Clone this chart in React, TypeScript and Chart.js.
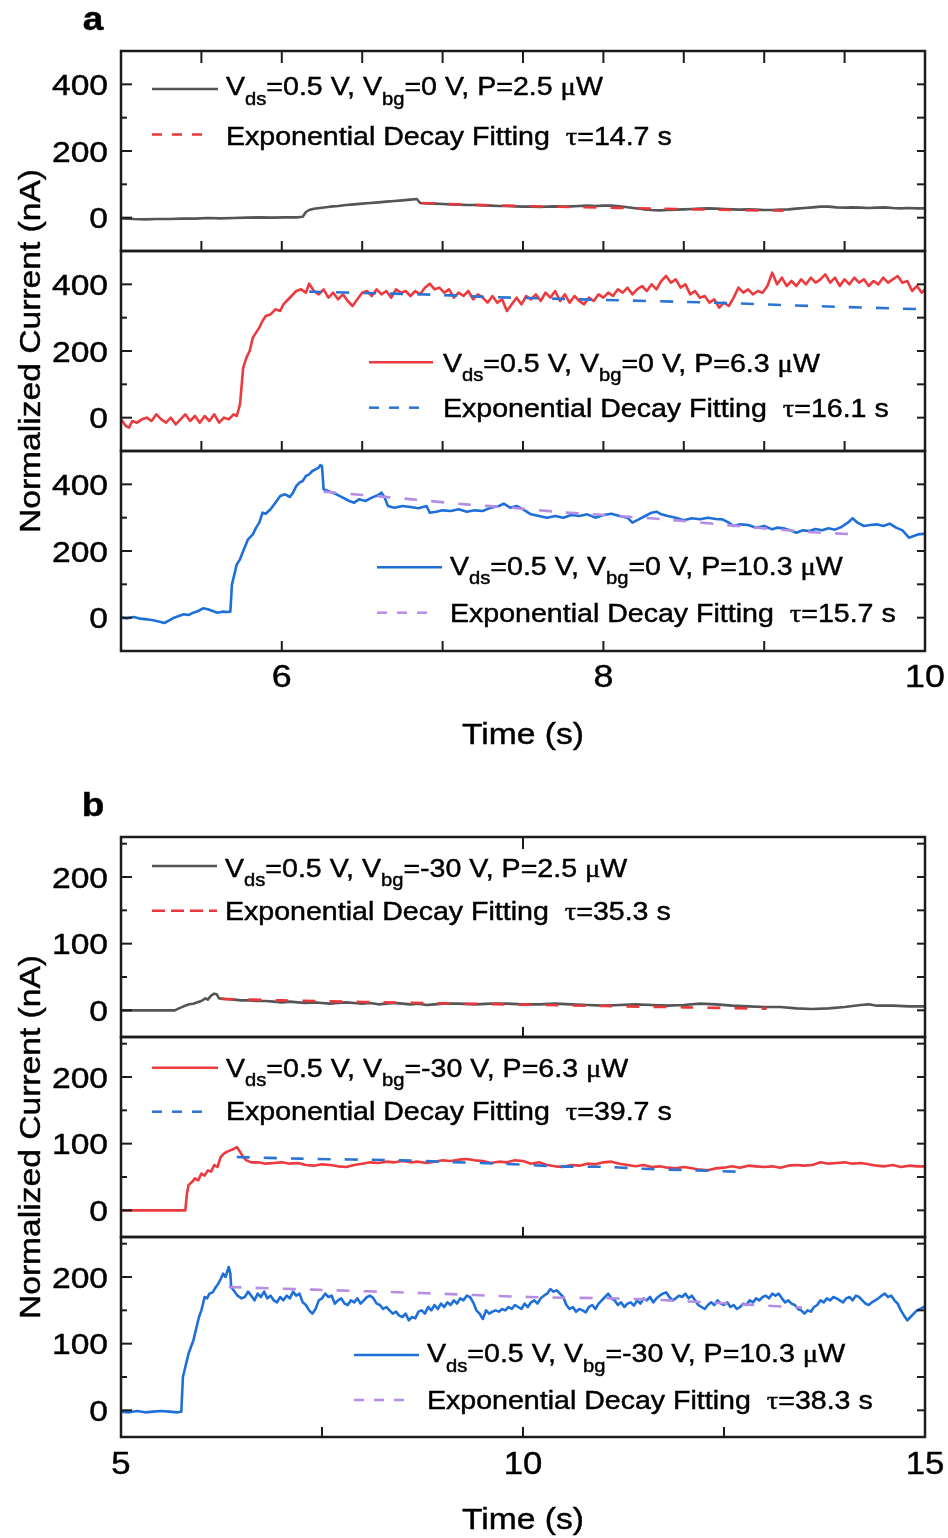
import React, { useEffect, useRef } from 'react';
import { Chart, registerables } from 'chart.js';

Chart.register(...registerables);

// ---------------- DATA ----------------
// Panel a, top: Vbg = 0 V, P = 2.5 uW (gray) + fit
const a1Time = [5.00,5.08,5.15,5.22,5.30,5.38,5.46,5.54,5.62,5.70,
  5.78,5.86,5.94,6.02,6.10,6.13,6.15,6.17,6.20,6.25,
  6.30,6.35,6.40,6.45,6.50,6.55,6.60,6.65,6.70,6.75,
  6.80,6.84,6.86,6.90,6.95,7.00,7.05,7.10,7.15,7.20,
  7.25,7.30,7.35,7.40,7.45,7.50,7.55,7.60,7.65,7.70,
  7.75,7.80,7.85,7.90,7.95,8.00,8.05,8.10,8.15,8.20,
  8.25,8.30,8.35,8.40,8.45,8.50,8.55,8.60,8.65,8.70,
  8.75,8.80,8.85,8.90,8.95,9.00,9.05,9.10,9.15,9.20,
  9.25,9.30,9.35,9.40,9.45,9.50,9.55,9.60,9.65,9.70,
  9.75,9.80,9.85,9.90,9.95,10.00];
const a1Current = [-2,-4,-5,-4,-4,-3,-3,-1,-2,-1,
  0,1,0,1,1,3,17,23,27,30,
  33,35,38,40,42,44,46,48,50,52,
  54,56,44,43,42,41,40,39,38,38,
  37,36,35,35,34,33,33,32,33,34,
  33,34,35,36,35,36,36,34,31,28,
  25,23,22,23,24,25,26,27,28,27,
  26,25,24,25,24,23,23,24,25,27,
  29,31,33,33,31,30,31,30,29,30,
  31,29,28,29,28,28];
const a1FitTime = [6.87,7.3,7.8,8.35,8.8,9.12];
const a1FitCurrent = [44,37,32,27,23,21];

// Panel a, middle: P = 6.3 uW (red) + fit
const a2Time = [5.00,5.03,5.05,5.07,5.10,5.13,5.16,5.19,5.22,5.25,
  5.28,5.31,5.34,5.37,5.40,5.43,5.46,5.49,5.52,5.55,
  5.58,5.61,5.64,5.67,5.70,5.72,5.74,5.76,5.78,5.80,
  5.82,5.84,5.86,5.88,5.90,5.93,5.96,5.99,6.01,6.03,
  6.06,6.09,6.12,6.15,6.17,6.20,6.23,6.26,6.29,6.32,
  6.35,6.38,6.41,6.44,6.47,6.50,6.53,6.56,6.59,6.62,
  6.65,6.68,6.71,6.74,6.77,6.80,6.83,6.86,6.89,6.92,
  6.95,6.98,7.01,7.04,7.07,7.10,7.13,7.16,7.19,7.22,
  7.25,7.28,7.31,7.34,7.37,7.40,7.43,7.46,7.49,7.52,
  7.55,7.58,7.61,7.64,7.67,7.70,7.73,7.76,7.79,7.82,
  7.85,7.88,7.91,7.94,7.97,8.00,8.03,8.06,8.09,8.12,
  8.15,8.18,8.21,8.24,8.27,8.30,8.33,8.36,8.39,8.42,
  8.45,8.48,8.51,8.54,8.57,8.60,8.63,8.66,8.69,8.72,
  8.75,8.78,8.81,8.84,8.87,8.90,8.93,8.96,8.99,9.02,
  9.05,9.08,9.11,9.14,9.17,9.20,9.23,9.26,9.29,9.32,
  9.35,9.38,9.41,9.44,9.47,9.50,9.53,9.56,9.59,9.62,
  9.65,9.68,9.71,9.74,9.77,9.80,9.83,9.86,9.89,9.92,
  9.95,9.98,10.00];
const a2Current = [-5,-25,-30,-10,-15,-5,0,-10,10,-5,
  -15,0,-20,-5,10,-10,5,-15,5,-10,
  10,-15,0,-5,10,5,40,150,180,200,
  240,255,270,290,305,310,325,320,340,350,
  365,380,385,375,402,380,370,385,360,375,
  355,370,350,335,355,375,380,365,385,370,
  380,360,385,375,380,365,380,370,390,402,
  385,390,375,385,360,375,365,380,355,370,
  360,345,365,345,355,320,340,360,340,365,
  355,370,350,375,360,380,350,370,345,365,
  350,340,360,350,370,360,375,365,385,375,
  390,370,385,395,380,400,385,410,425,405,
  415,390,400,370,380,360,365,345,355,330,
  345,335,360,390,375,385,370,380,375,395,
  435,400,420,395,410,395,415,400,420,405,
  415,430,405,420,395,415,400,420,405,415,
  395,410,400,420,405,415,425,405,410,380,
  395,375,385];
const a2FitTime = [6.17,6.6,6.94,7.23,7.85,8.68,9.3,10.0];
const a2FitCurrent = [378,373,369,363,355,345,335,325];

// Panel a, bottom: P = 10.3 uW (blue) + fit
const a3Time = [5.00,5.04,5.08,5.12,5.16,5.20,5.24,5.27,5.30,5.33,
  5.36,5.39,5.42,5.45,5.48,5.51,5.54,5.57,5.60,5.63,
  5.66,5.68,5.69,5.72,5.74,5.76,5.79,5.82,5.84,5.86,
  5.88,5.90,5.93,5.96,5.99,6.02,6.05,6.07,6.09,6.11,
  6.13,6.15,6.17,6.19,6.21,6.23,6.24,6.25,6.26,6.30,
  6.34,6.38,6.42,6.45,6.48,6.52,6.56,6.60,6.62,6.64,
  6.66,6.70,6.75,6.80,6.85,6.90,6.92,6.96,7.00,7.05,
  7.10,7.15,7.20,7.25,7.30,7.35,7.38,7.42,7.46,7.50,
  7.55,7.60,7.65,7.70,7.75,7.80,7.85,7.90,7.95,8.00,
  8.05,8.10,8.15,8.18,8.22,8.26,8.30,8.33,8.36,8.40,
  8.45,8.50,8.55,8.60,8.65,8.70,8.74,8.78,8.81,8.85,
  8.90,8.95,9.00,9.05,9.08,9.12,9.16,9.20,9.24,9.28,
  9.32,9.36,9.40,9.44,9.48,9.52,9.55,9.58,9.62,9.66,
  9.70,9.74,9.78,9.82,9.86,9.90,9.93,9.96,10.00];
const a3Current = [0,-2,2,-3,-5,-8,-12,-16,-8,0,
  5,10,8,15,20,28,25,20,15,18,
  17,18,100,160,175,200,235,250,270,285,
  315,312,325,345,365,370,362,375,395,405,
  410,425,430,440,445,450,458,455,385,378,
  370,360,350,345,355,350,360,368,375,360,
  335,330,335,332,328,335,315,318,322,320,
  325,318,322,320,330,335,342,330,335,325,
  310,305,300,305,300,308,305,310,300,308,
  312,305,300,285,295,305,315,318,310,305,
  300,292,298,295,300,296,295,285,275,280,
  278,270,275,265,270,268,262,255,262,260,
  266,262,268,264,272,285,298,285,275,278,
  280,275,282,270,262,240,245,250,252];
const a3FitTime = [6.26,6.5,6.81,7.14,7.4,7.7,8.0,8.4,8.9,9.28,9.56];
const a3FitCurrent = [378,368,355,340,331,318,308,294,272,257,250];

// Panel b, top: Vbg = -30 V, P = 2.5 uW (gray) + fit
const b1Time = [5.0,5.3,5.6,5.67,5.72,5.78,5.85,5.9,5.95,6.0,
  6.05,6.08,6.12,6.16,6.19,6.22,6.3,6.4,6.5,6.6,
  6.7,6.8,6.9,7.0,7.1,7.2,7.3,7.4,7.5,7.6,
  7.7,7.8,7.9,8.0,8.1,8.2,8.3,8.4,8.5,8.6,
  8.7,8.8,8.9,9.0,9.2,9.4,9.6,9.8,10.0,10.2,
  10.4,10.6,10.8,11.0,11.2,11.4,11.6,11.8,12.0,12.2,
  12.4,12.6,12.8,13.0,13.2,13.4,13.6,13.8,14.0,14.2,
  14.3,14.4,14.6,14.8,15.0];
const b1Current = [0,0,0,0,3,6,9,10,12,14,
  18,16,22,25,24,18,17,16,15,15,
  14,14,13,12,13,12,11,12,11,10,
  11,12,11,10,11,9,10,11,10,9,
  10,8,9,10,10,9,10,10,9,9,
  10,9,8,7,8,9,8,7,8,10,
  9,7,6,5,5,3,2,3,5,8,
  9,7,7,6,6];
const b1FitTime = [6.25,7,8,9,10,11,12,13.03];
const b1FitCurrent = [17,15,12.5,10.5,8.5,6.5,4.5,2.5];

// Panel b, middle: P = 6.3 uW (red) + fit
const b2Time = [5.0,5.4,5.8,5.82,5.84,5.88,5.92,5.96,6.0,6.04,
  6.08,6.12,6.16,6.2,6.24,6.28,6.32,6.36,6.4,6.44,
  6.48,6.52,6.56,6.62,6.7,6.8,6.9,7.0,7.1,7.2,
  7.3,7.4,7.5,7.6,7.7,7.8,7.9,8.0,8.1,8.2,
  8.3,8.4,8.5,8.6,8.7,8.8,8.9,9.0,9.1,9.2,
  9.3,9.4,9.5,9.6,9.7,9.8,9.9,10.0,10.1,10.2,
  10.3,10.4,10.5,10.6,10.7,10.8,10.9,11.0,11.1,11.2,
  11.3,11.4,11.5,11.6,11.7,11.8,11.9,12.0,12.1,12.2,
  12.3,12.4,12.5,12.6,12.7,12.8,12.9,13.0,13.1,13.2,
  13.3,13.4,13.5,13.6,13.7,13.8,13.9,14.0,14.1,14.2,
  14.3,14.4,14.5,14.6,14.7,14.8,14.9,15.0];
const b2Current = [0,0,0,25,38,42,48,45,55,52,
  60,58,68,65,80,85,88,90,92,95,
  88,80,75,72,72,70,71,72,70,71,
  68,67,69,68,66,65,68,70,72,71,
  73,72,74,72,73,71,73,75,74,76,
  77,75,74,71,73,72,75,74,70,72,
  68,66,65,68,67,70,69,72,73,70,
  68,66,68,65,66,64,63,65,63,61,
  60,63,64,66,64,67,66,65,66,64,
  67,68,67,68,72,70,71,72,70,71,
  69,67,66,68,65,67,66,66];
const b2FitTime = [6.44,7.23,8.48,9.09,9.71,10.46,11.08,11.46,12.12,12.78];
const b2FitCurrent = [80,77.5,75,72.5,70,66,65,62.5,60,57.5];

// Panel b, bottom: P = 10.3 uW (blue) + fit
const b3Time = [5.0,5.1,5.2,5.3,5.4,5.5,5.6,5.7,5.75,5.77,
  5.8,5.84,5.87,5.9,5.94,5.97,6.0,6.04,6.07,6.1,
  6.14,6.18,6.21,6.24,6.27,6.3,6.34,6.36,6.37,6.4,
  6.45,6.5,6.54,6.58,6.62,6.66,6.7,6.74,6.78,6.82,
  6.86,6.9,6.94,6.98,7.02,7.06,7.1,7.14,7.18,7.22,
  7.26,7.3,7.34,7.38,7.42,7.46,7.5,7.54,7.58,7.62,
  7.66,7.7,7.74,7.78,7.82,7.86,7.9,7.94,7.98,8.02,
  8.06,8.1,8.14,8.18,8.22,8.26,8.3,8.34,8.38,8.42,
  8.46,8.5,8.54,8.58,8.62,8.66,8.7,8.74,8.78,8.82,
  8.86,8.9,8.94,8.98,9.02,9.06,9.1,9.14,9.18,9.22,
  9.26,9.3,9.34,9.38,9.42,9.46,9.5,9.54,9.58,9.62,
  9.66,9.7,9.74,9.78,9.82,9.86,9.9,9.94,9.98,10.02,
  10.06,10.1,10.14,10.18,10.22,10.26,10.3,10.34,10.38,10.42,
  10.46,10.5,10.54,10.58,10.62,10.66,10.7,10.74,10.78,10.82,
  10.86,10.9,10.94,10.98,11.02,11.06,11.1,11.14,11.18,11.22,
  11.26,11.3,11.34,11.38,11.42,11.46,11.5,11.54,11.58,11.62,
  11.66,11.7,11.74,11.78,11.82,11.86,11.9,11.94,11.98,12.02,
  12.06,12.1,12.14,12.18,12.22,12.26,12.3,12.34,12.38,12.42,
  12.46,12.5,12.54,12.58,12.62,12.66,12.7,12.74,12.78,12.82,
  12.86,12.9,12.94,12.98,13.02,13.06,13.1,13.14,13.18,13.22,
  13.26,13.3,13.34,13.38,13.42,13.46,13.5,13.54,13.58,13.62,
  13.66,13.7,13.74,13.78,13.82,13.86,13.9,13.94,13.98,14.02,
  14.06,14.1,14.14,14.18,14.22,14.26,14.3,14.34,14.38,14.42,
  14.46,14.5,14.54,14.58,14.62,14.66,14.7,14.74,14.78,14.82,
  14.86,14.9,14.94,14.98,15.0];
const b3Current = [-2,-3,-1,-3,-2,-1,-2,-3,-2,50,
  65,85,95,105,125,140,150,170,168,175,
  177,185,190,197,205,200,215,205,185,180,
  172,168,170,178,172,165,175,170,178,168,
  172,165,162,170,165,172,168,178,172,175,
  162,158,150,145,152,165,168,175,170,172,
  160,165,168,160,158,165,162,168,160,165,
  170,172,168,160,158,152,155,150,145,148,
  142,140,145,135,140,138,148,150,145,155,
  150,158,152,160,155,162,158,165,160,168,
  165,172,170,162,150,145,137,150,145,148,
  150,148,152,150,155,152,158,155,152,160,
  155,162,165,160,168,172,175,182,178,180,
  175,170,158,152,155,148,152,150,147,155,
  158,152,160,165,170,175,168,165,158,162,
  155,160,162,157,165,160,168,165,170,162,
  168,172,175,177,170,165,168,172,170,175,
  168,172,165,158,155,152,158,162,158,165,
  160,158,162,155,158,152,155,160,158,165,
  162,168,165,170,172,168,175,172,175,168,
  162,165,160,158,152,150,145,150,148,155,
  158,165,162,168,165,170,168,165,162,168,
  170,165,172,170,165,160,158,162,165,168,
  172,175,170,172,165,160,150,142,135,140,
  145,150,152,155,154];
const b3FitTime = [6.34,7.4,8.73,10.07,11.4,12.73,13.47];
const b3FitCurrent = [185,181,176,170,167,159,154];

// Tick values and labels
const aYLabels = [0, 200, 400];
const aYMinor = [100, 300];
const aYRight = [0, 100, 200, 300, 400];
const aXLabels = [6, 8, 10];
const aXHalfTicks = [5.5, 6, 6.5, 7, 7.5, 8, 8.5, 9, 9.5];
const aXUnitTicks = [6, 7, 8, 9];
const bYLabels = [0, 100, 200];
const bYMinor = [50, 150, 250];
const bYRight = [0, 50, 100, 150, 200, 250];
const bXLabels = [5, 10, 15];
const bXMidTicks = [10];
const bXQuarterTicks = [7.5, 10, 12.5];

// Legend texts
const legendA = [
  ['V_{ds}=0.5 V, V_{bg}=0 V, P=2.5 μW', 'Exponential Decay Fitting  τ=14.7 s'],
  ['V_{ds}=0.5 V, V_{bg}=0 V, P=6.3 μW', 'Exponential Decay Fitting  τ=16.1 s'],
  ['V_{ds}=0.5 V, V_{bg}=0 V, P=10.3 μW', 'Exponential Decay Fitting  τ=15.7 s'],
];
const legendB = [
  ['V_{ds}=0.5 V, V_{bg}=-30 V, P=2.5 μW', 'Exponential Decay Fitting  τ=35.3 s'],
  ['V_{ds}=0.5 V, V_{bg}=-30 V, P=6.3 μW', 'Exponential Decay Fitting  τ=39.7 s'],
  ['V_{ds}=0.5 V, V_{bg}=-30 V, P=10.3 μW', 'Exponential Decay Fitting  τ=38.3 s'],
];
const X_TITLE = 'Time (s)';
const Y_TITLE = 'Normalized Current (nA)';

// ---------------- STYLE ----------------
const GRAY = '#555555';
const RED = '#ec3a3e';
const BLUE = '#1f6fd8';
const PURPLE = '#b58de3';
const RED_FIT = '#e8383c';
const BLUE_FIT = '#2c74d4';
const FRAME = '#1c1c1c';
const FONT = '"Liberation Sans", Arial, Helvetica, sans-serif';
const SERIF = '"Liberation Serif", "DejaVu Serif", serif';
const SX = 1.12;
const LEG_SIZE = 25.5;
const SUB_SIZE = 18;
const SUB_DY = 9.5;
const TEXT_STROKE = 0.45;

const PANEL_A = {
  canvasTop: 0, canvasH: 770, xMin: 5, xMax: 10, yMin: -100, yMax: 500,
  yLabels: aYLabels, yMinor: aYMinor, yRight: aYRight, xLabels: aXLabels,
  letter: 'a', letterBase: 30, yTitleMid: 351, xLabelMid: 676, xTitleMid: 733, xLabelSize: 32,
};
const PANEL_B = {
  canvasTop: 770, canvasH: 768, xMin: 5, xMax: 15, yMin: -40, yMax: 260,
  yLabels: bYLabels, yMinor: bYMinor, yRight: bYRight, xLabels: bXLabels,
  letter: 'b', letterBase: 816, yTitleMid: 1137, xLabelMid: 1463, xTitleMid: 1518, xLabelSize: 31,
};

const SUBPLOTS = [
  { panel: PANEL_A, top: 51, bottom: 251, role: 'first', xTop: aXHalfTicks, xBottom: aXHalfTicks,
    t: a1Time, v: a1Current, color: GRAY, width: 2.6, ft: a1FitTime, fv: a1FitCurrent, fcolor: RED_FIT,
    legend: { texts: legendA[0], x1: 152, x2: 218, dashEnd: 206, l1: 89, l2: 134.5, t1: 86, t2: 135.5, tx: 226, dash: [10, 10] } },
  { panel: PANEL_A, top: 251, bottom: 451, role: 'middle', xTop: [], xBottom: aXHalfTicks,
    t: a2Time, v: a2Current, color: RED, width: 2.6, ft: a2FitTime, fv: a2FitCurrent, fcolor: BLUE_FIT,
    legend: { texts: legendA[1], x1: 369, x2: 433, dashEnd: 422, l1: 362.3, l2: 407.7, t1: 362.5, t2: 407.5, tx: 443, dash: [10, 10] } },
  { panel: PANEL_A, top: 451, bottom: 651, role: 'last', xTop: [], xBottom: aXUnitTicks,
    t: a3Time, v: a3Current, color: BLUE, width: 2.6, ft: a3FitTime, fv: a3FitCurrent, fcolor: PURPLE,
    legend: { texts: legendA[2], x1: 377, x2: 442, dashEnd: 430, l1: 567.3, l2: 612.7, t1: 565.8, t2: 612.5, tx: 450, dash: [10, 10] } },
  { panel: PANEL_B, top: 837, bottom: 1037, role: 'first', xTop: bXMidTicks, xBottom: bXMidTicks,
    t: b1Time, v: b1Current, color: GRAY, width: 2.6, ft: b1FitTime, fv: b1FitCurrent, fcolor: RED_FIT,
    legend: { texts: legendB[0], x1: 152, x2: 217, dashEnd: 217, l1: 866, l2: 910.7, t1: 867.5, t2: 910.8, tx: 225, dash: [13, 6] } },
  { panel: PANEL_B, top: 1037, bottom: 1237, role: 'middle', xTop: [], xBottom: bXMidTicks,
    t: b2Time, v: b2Current, color: RED, width: 2.6, ft: b2FitTime, fv: b2FitCurrent, fcolor: BLUE_FIT,
    legend: { texts: legendB[1], x1: 152, x2: 218, dashEnd: 206, l1: 1067.7, l2: 1111.7, t1: 1067.5, t2: 1110.8, tx: 226, dash: [10, 10] } },
  { panel: PANEL_B, top: 1237, bottom: 1437, role: 'last', xTop: [], xBottom: bXQuarterTicks,
    t: b3Time, v: b3Current, color: BLUE, width: 2.6, ft: b3FitTime, fv: b3FitCurrent, fcolor: PURPLE,
    legend: { texts: legendB[2], x1: 354, x2: 419, dashEnd: 409, l1: 1355, l2: 1400, t1: 1353.3, t2: 1400, tx: 427, dash: [10, 10] } },
];

// ---------------- TEXT HELPERS ----------------
function paintText(ctx, s) {
  ctx.fillText(s, 0, 0);
  ctx.lineWidth = TEXT_STROKE;
  ctx.strokeStyle = '#000';
  ctx.setLineDash([]);
  ctx.strokeText(s, 0, 0);
}

function drawText(ctx, s, x, mid, size, align = 'left', bold = false) {
  ctx.font = `${bold ? 'bold ' : ''}${size}px ${FONT}`;
  const w = ctx.measureText(s).width * SX;
  const x0 = align === 'center' ? x - w / 2 : align === 'right' ? x - w : x;
  ctx.save();
  ctx.translate(x0, mid + size * 0.358);
  ctx.scale(SX, 1);
  ctx.textAlign = 'left';
  ctx.textBaseline = 'alphabetic';
  paintText(ctx, s);
  ctx.restore();
}

function parseRich(s) {
  const segs = [];
  const re = /_\{([^}]*)\}/g;
  let m;
  let last = 0;
  while ((m = re.exec(s))) {
    if (m.index > last) segs.push({ t: s.slice(last, m.index), sub: false });
    segs.push({ t: m[1], sub: true });
    last = re.lastIndex;
  }
  if (last < s.length) segs.push({ t: s.slice(last), sub: false });
  const out = [];
  for (const sg of segs) {
    for (const part of sg.t.split(/([μτ])/)) {
      if (part) out.push({ t: part, sub: sg.sub, greek: /^[μτ]$/.test(part) });
    }
  }
  return out;
}

function drawRich(ctx, s, x, mid) {
  const base = mid + LEG_SIZE * 0.358;
  let cx = x;
  for (const seg of parseRich(s)) {
    const sz = seg.sub ? SUB_SIZE : LEG_SIZE;
    ctx.font = `${sz}px ${seg.greek ? SERIF : FONT}`;
    const w = ctx.measureText(seg.t).width * SX;
    ctx.save();
    ctx.translate(cx, base + (seg.sub ? SUB_DY : 0));
    ctx.scale(SX, 1);
    ctx.textAlign = 'left';
    ctx.textBaseline = 'alphabetic';
    paintText(ctx, seg.t);
    ctx.restore();
    cx += w;
  }
}

function makeDecor(sp) {
  return {
    id: 'decor',
    afterDraw(chart) {
      const { ctx, chartArea: ca } = chart;
      const xs = chart.scales.x;
      const ys = chart.scales.y;
      const P = sp.panel;
      const off = P.canvasTop;
      ctx.save();
      ctx.setLineDash([]);
      ctx.strokeStyle = FRAME;
      ctx.lineWidth = 2.5;
      ctx.strokeRect(ca.left, ca.top, ca.right - ca.left, ca.bottom - ca.top);
      ctx.lineWidth = 2;
      const tick = (x1, y1, x2, y2) => { ctx.beginPath(); ctx.moveTo(x1, y1); ctx.lineTo(x2, y2); ctx.stroke(); };
      for (const v of P.yLabels) { const y = ys.getPixelForValue(v); tick(ca.left, y, ca.left + 11, y); }
      for (const v of P.yMinor) { const y = ys.getPixelForValue(v); tick(ca.left, y, ca.left + 6, y); }
      for (const v of P.yRight) { const y = ys.getPixelForValue(v); tick(ca.right, y, ca.right - 8, y); }
      for (const v of sp.xTop) { const x = xs.getPixelForValue(v); tick(x, ca.top, x, ca.top + 12); }
      for (const v of sp.xBottom) { const x = xs.getPixelForValue(v); tick(x, ca.bottom, x, ca.bottom - 10); }

      ctx.fillStyle = '#000';
      for (const v of P.yLabels) drawText(ctx, String(v), ca.left - 13, ys.getPixelForValue(v), 30, 'right');

      if (sp.role === 'last') {
        for (const v of P.xLabels) drawText(ctx, String(v), xs.getPixelForValue(v), P.xLabelMid - off, P.xLabelSize, 'center');
        drawText(ctx, X_TITLE, (ca.left + ca.right) / 2, P.xTitleMid - off, 30, 'center');
      }
      if (sp.role === 'first') {
        drawText(ctx, P.letter, 93, P.letterBase - off - 33 * 0.358 - 0.5, 33, 'center', true);
      }
      if (sp.role === 'middle') {
        ctx.save();
        ctx.translate(29, P.yTitleMid - off);
        ctx.rotate(-Math.PI / 2);
        drawText(ctx, Y_TITLE, 0, 0, 30, 'center');
        ctx.restore();
      }

      const L = sp.legend;
      ctx.lineCap = 'butt';
      ctx.strokeStyle = sp.color;
      ctx.lineWidth = 2.4;
      tick(L.x1, L.l1 - off, L.x2, L.l1 - off);
      ctx.strokeStyle = sp.fcolor;
      ctx.lineWidth = 2.5;
      ctx.setLineDash(L.dash);
      tick(L.x1, L.l2 - off, L.dashEnd, L.l2 - off);
      ctx.setLineDash([]);
      ctx.fillStyle = '#000';
      drawRich(ctx, L.texts[0], L.tx, L.t1 - off);
      drawRich(ctx, L.texts[1], L.tx, L.t2 - off);
      ctx.restore();
    },
  };
}

function SubPlot({ sp }) {
  const ref = useRef(null);
  useEffect(() => {
    const P = sp.panel;
    const pts = (t, v) => t.map((tt, i) => ({ x: tt, y: v[i] }));
    const chart = new Chart(ref.current, {
      type: 'line',
      data: {
        datasets: [
          { data: pts(sp.ft, sp.fv), borderColor: sp.fcolor, borderWidth: 2.6, borderDash: [13, 14],
            pointRadius: 0, tension: 0.3, order: 0, fill: false },
          { data: pts(sp.t, sp.v), borderColor: sp.color, borderWidth: sp.width, pointRadius: 0,
            tension: 0, order: 1, fill: false, borderJoinStyle: 'round' },
        ],
      },
      options: {
        responsive: false,
        animation: false,
        devicePixelRatio: 1,
        events: [],
        layout: {
          padding: {
            left: 121,
            right: 948 - 925,
            top: sp.top - P.canvasTop,
            bottom: P.canvasH - (sp.bottom - P.canvasTop),
          },
        },
        plugins: { legend: { display: false }, tooltip: { enabled: false } },
        scales: {
          x: { type: 'linear', min: P.xMin, max: P.xMax, display: false },
          y: { type: 'linear', min: P.yMin, max: P.yMax, display: false },
        },
      },
      plugins: [makeDecor(sp)],
    });
    return () => chart.destroy();
  }, [sp]);
  return (
    <canvas
      ref={ref}
      width={948}
      height={sp.panel.canvasH}
      style={{ position: 'absolute', left: 0, top: sp.panel.canvasTop, width: 948, height: sp.panel.canvasH }}
    />
  );
}

export default function App() {
  return (
    <div style={{ position: 'absolute', left: 0, top: 0, width: 948, height: 1538, background: '#fff' }}>
      {SUBPLOTS.map((sp, i) => <SubPlot key={i} sp={sp} />)}
    </div>
  );
}
